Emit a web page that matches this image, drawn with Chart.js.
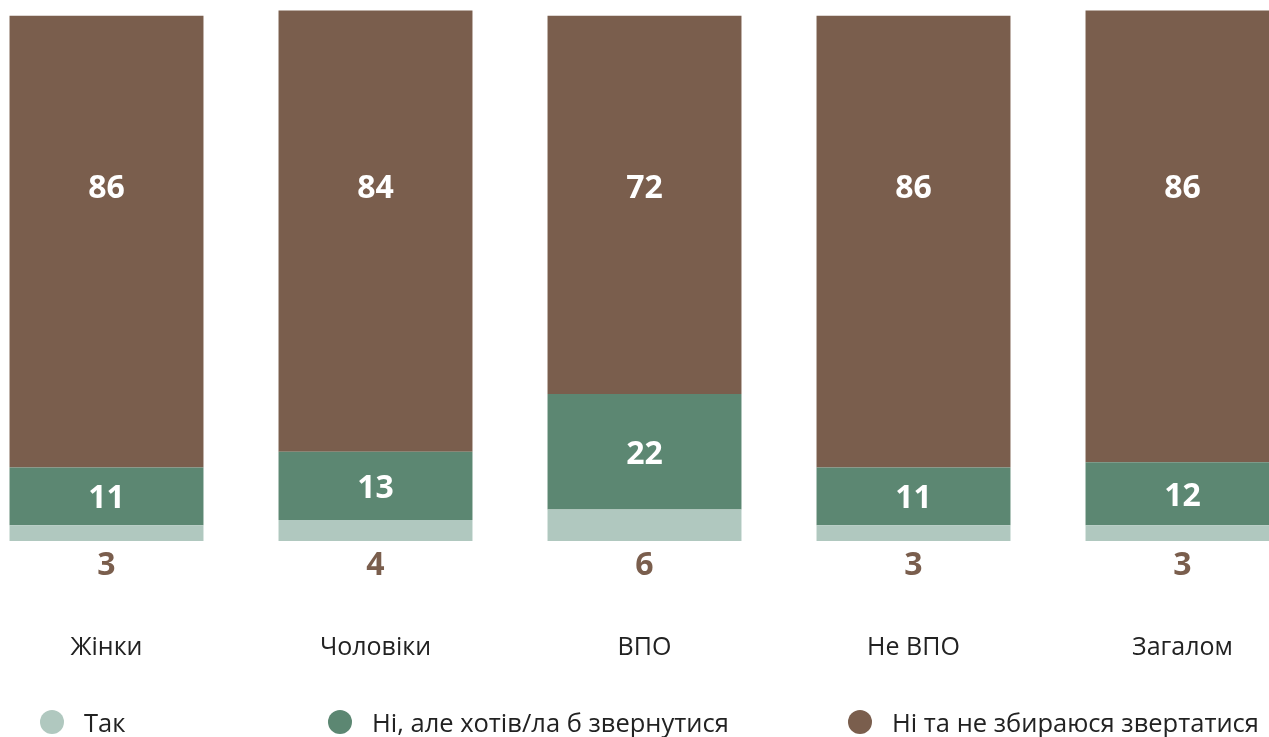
<!DOCTYPE html>
<html>
<head>
<meta charset="utf-8">
<script src="https://cdn.jsdelivr.net/npm/chart.js@4.4.1/dist/chart.umd.min.js"></script>
<style>
  html, body { margin: 0; padding: 0; background: #fff; overflow: hidden; }
  body { width: 1269px; height: 737px; position: relative; font-family: "Open Sans", sans-serif; }
  #wrap { position: absolute; left: -28px; top: 0; width: 1345px; height: 747px; }
  .leg { position: absolute; top: 708px; height: 28px; display: flex; align-items: center;
         font-size: 25.5px; color: #222; white-space: nowrap; }
  .leg i { display: inline-block; width: 24px; height: 24px; border-radius: 50%; margin-right: 20px; }
</style>
</head>
<body>
<div id="wrap"><canvas id="chart"></canvas></div>
<div id="legend"></div>
<script>
'use strict';

const categories = ['Жінки', 'Чоловіки', 'ВПО', 'Не ВПО', 'Загалом'];
const yesValues  = [3, 4, 6, 3, 3];
const wantValues = [11, 13, 22, 11, 12];
const noValues   = [86, 84, 72, 86, 86];

const seriesLabels = ['Так', 'Ні, але хотів/ла б звернутися', 'Ні та не збираюся звертатися'];
const colors       = ['#b0c8bf', '#5c8772', '#7a5e4d'];
const legendLeft   = [40, 328, 848];

// value labels: light segment below the bar, green centred, brown at a fixed height
const valueLabels = {
  id: 'valueLabels',
  afterDatasetsDraw(chart) {
    const ctx = chart.ctx;
    const y = chart.scales.y;
    ctx.save();
    ctx.font = '700 32px "Open Sans", sans-serif';
    ctx.textAlign = 'center';
    ctx.textBaseline = 'middle';
    chart.data.datasets.forEach((ds, di) => {
      const meta = chart.getDatasetMeta(di);
      meta.data.forEach((bar, i) => {
        let ty;
        if (di === 0) { ctx.fillStyle = colors[2]; ty = bar.base + 25; }
        else if (di === 1) { ctx.fillStyle = '#fff'; ty = (bar.y + bar.base) / 2 + 3; }
        else { ctx.fillStyle = '#fff'; ty = y.getPixelForValue(67.6) + 3; }
        ctx.fillText(ds.data[i], bar.x, ty);
      });
    });
    ctx.restore();
  }
};

new Chart(document.getElementById('chart'), {
  type: 'bar',
  data: {
    labels: categories,
    datasets: [
      { label: seriesLabels[0], data: yesValues,  backgroundColor: colors[0] },
      { label: seriesLabels[1], data: wantValues, backgroundColor: colors[1] },
      { label: seriesLabels[2], data: noValues,   backgroundColor: colors[2] },
    ],
  },
  options: {
    responsive: true,
    maintainAspectRatio: false,
    animation: false,
    layout: { padding: 0 },
    datasets: { bar: { barPercentage: 0.721, categoryPercentage: 1 } },
    plugins: { legend: { display: false }, tooltip: { enabled: false } },
    scales: {
      x: {
        stacked: true,
        grid: { display: false },
        border: { display: false },
        ticks: { color: '#222', font: { family: 'Open Sans', size: 25 }, padding: 84 },
      },
      y: { stacked: true, min: 0, max: 103, display: false },
    },
  },
  plugins: [valueLabels],
});

const legend = document.getElementById('legend');
seriesLabels.forEach((s, i) => {
  const d = document.createElement('div');
  d.className = 'leg';
  d.style.left = legendLeft[i] + 'px';
  d.innerHTML = '<i style="background:' + colors[i] + '"></i>' + s;
  legend.appendChild(d);
});
</script>
</body>
</html>
